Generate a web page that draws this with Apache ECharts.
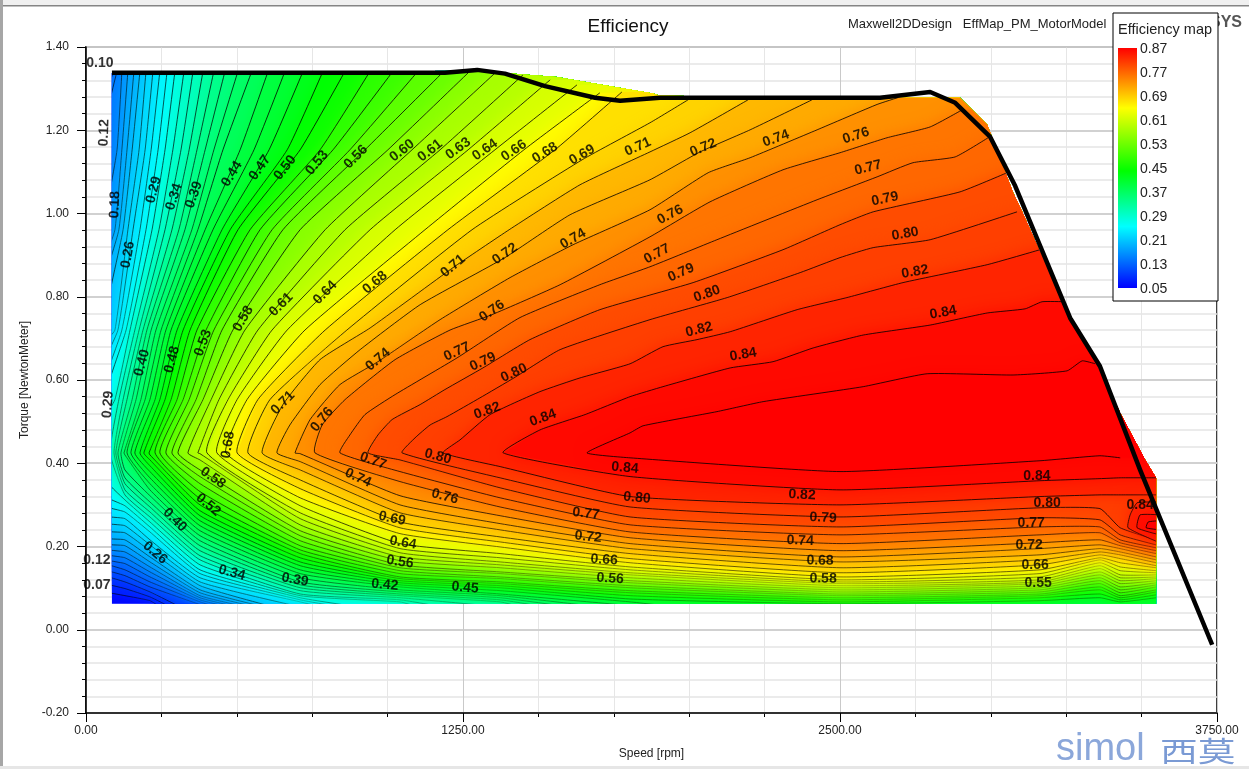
<!DOCTYPE html>
<html><head><meta charset="utf-8">
<style>html,body{margin:0;padding:0;background:#fff}#c{width:1249px;height:769px}</style>
<script src="https://cdn.jsdelivr.net/npm/echarts@6/dist/echarts.min.js"></script>
</head><body><div id="c"></div>
<script>
// Contour levels, index 0..49
const levels=[0.07,0.08,0.10,0.12,0.13,0.15,0.16,0.18,0.20,0.21,0.23,0.25,0.26,0.28,0.29,0.31,0.33,0.34,0.36,0.38,0.39,0.41,0.42,0.44,0.45,0.47,0.49,0.50,0.52,0.53,0.55,0.56,0.58,0.60,0.61,0.63,0.64,0.66,0.68,0.69,0.71,0.72,0.74,0.76,0.77,0.79,0.80,0.82,0.84,0.85];

// Upper branches: speed at fixed torque rows, levels 0.33 .. 0.60
const torqueRows=[1.342,1.153,0.961,0.72,0.553,0.425];
const upperRowFirstIndex=16;
const upperRowSpeeds=[
[325,288,242,162,109,80],[355,315,262,176,123,93],[388,342,285,189,136,99],[424,368,308,202,153,106],
[461,395,328,216,166,116],[504,424,351,232,182,126],[550,454,371,249,196,136],[604,511,395,265,212,149],
[660,557,421,282,229,162],[720,607,451,302,245,179],[786,667,478,322,262,192],[859,710,504,345,282,209],
[942,776,544,368,302,229],[1018,819,577,398,322,245],[1101,875,617,424,342,265],[1187,925,653,451,365,285],
[1273,1001,710,487,388,305],[1363,1081,793,527,415,338]];

// Upper branches of low levels: from the top edge down to the left edge
const upper015=[[93,1.342],[60,1.273]];
const upper016=[[103,1.342],[60,1.201]];
const upper018=[[119,1.342],[103,1.153],[60,.961]];
const upper020=[[139,1.342],[119,1.153],[96,.961],[60,.877]];
const upper021=[[159,1.342],[136,1.153],[109,.961],[60,.829]];
const upper023=[[179,1.342],[153,1.153],[123,.961],[60,.733]];
const upper025=[[199,1.342],[176,1.153],[139,.961],[96,.72],[60,.686]];
const upper026=[[222,1.342],[196,1.153],[156,.961],[106,.72],[60,.639]];
const upper028=[[245,1.342],[216,1.153],[179,.961],[119,.72],[60,.589]];
const upper029=[[269,1.342],[239,1.153],[199,.961],[133,.72],[60,.553]];
const upper031=[[295,1.342],[262,1.153],[219,.961],[146,.72],[96,.553],[60,.505]];

// Upper branches of high levels
const upper061=[[1449,1.333],[1174,1.153],[859,.961],[570,.72],[441,.553],[371,.425]];
const upper063=[[1539,1.321],[1267,1.153],[942,.961],[617,.72],[471,.553],[401,.425]];
const upper064=[[1628,1.309],[1356,1.153],[1025,.961],[667,.72],[501,.553],[434,.425]];
const upper066=[[1704,1.290],[1452,1.153],[1124,.961],[726,.72],[534,.553],[464,.425]];
const upper068=[[1777,1.292],[1555,1.153],[1200,.961],[793,.72],[570,.553],[501,.425]];
const upper069=[[1996,1.273],[1870,1.218],[1645,1.129],[1280,.961],[865,.72],[610,.553],[537,.425]];
const upper071=[[2195,1.273],[2003,1.194],[1870,1.148],[1638,1.069],[1403,.961],[1217,.870],[942,.725],[776,.649],[653,.541],[584,.425]];
const upper072=[[2407,1.273],[2202,1.201],[2036,1.148],[1870,1.081],[1605,.997],[1389,.894],[1108,.781],[909,.673],[776,.589],[676,.492],[633,.425]];
const upper074=[[2699,1.280],[2623,1.262],[2424,1.201],[2202,1.134],[2063,1.098],[1870,1.009],[1615,.925],[1406,.846],[1174,.745],[968,.644],[842,.589],[743,.505],[693,.425]];
const upper076=[[2905,1.249],[2799,1.208],[2656,1.182],[2500,1.146],[2311,1.105],[2069,1.028],[1870,.944],[1572,.829],[1346,.757],[1207,.720],[1025,.649],[859,.553],[783,.492],[759,.425]];
const upper077=[[2991,1.182],[2882,1.136],[2742,1.122],[2623,1.088],[2424,1.033],[2092,.937],[1870,.872],[1704,.829],[1439,.750],[1230,.653],[1025,.565],[925,.517],[875,.468],[842,.425]];
const upper079=[[3054,1.098],[2898,1.052],[2610,1.004],[2500,.973],[2311,.913],[2013,.834],[1704,.769],[1472,.697],[1316,.629],[1190,.577],[1108,.541],[1015,.505],[968,.468],[935,.425]];
const upper080=[[3087,1.004],[2799,.937],[2610,.918],[2500,.894],[2368,.858],[2126,.798],[1870,.745],[1572,.673],[1419,.605],[1306,.557],[1197,.512],[1141,.492],[1091,.461],[1048,.425]];
const upper082=[[3163,.913],[2988,.877],[2709,.834],[2523,.798],[2358,.769],[2136,.716],[2026,.697],[1913,.680],[1804,.639],[1638,.605],[1505,.572],[1340,.517],[1240,.456],[1184,.425]];
const upper084=[[3246,.788],[3170,.788],[3114,.771],[2988,.761],[2799,.732],[2577,.708],[2411,.677],[2278,.644],[2136,.629],[1913,.584],[1804,.560],[1655,.517],[1505,.480],[1383,.425]];
const upper085=[[3346,.639],[3303,.646],[3253,.622],[3074,.612],[2789,.615],[2577,.584],[2245,.548],[2092,.524],[1847,.490],[1804,.473],[1661,.425]];

// Lower branches: torque where each contour meets the left edge (levels 0.07 .. 0.31)
const leftEdgeTorque=[.091,.111,.130,.144,.159,.173,.185,.197,.209,.223,.240,.259,.276,.300,.324,.365];
// Lower branches: torque at fixed speeds; each list starts at the given level index
const lowerAt129=[.082,.099,.115,.130,.144,.159,.173,.187,.202,.216,.233,.250,.267,.283,.298,.312,.324,.336,.351,.365,.384,.420];
const lowerAt212=[.070,.079,.091,.103,.115,.127,.139,.151,.163,.175,.190,.204,.216,.235,.247,.259,.271,.283,.295,.307,.322,.336,.351,.365,.380,.394,.408,.420];
const lowerAt378=[.067,.072,.077,.082,.089,.096,.106,.115,.125,.135,.144,.156,.168,.178,.190,.202,.214,.226,.238,.250,.262,.274,.286,.300,.315,.332,.351,.368,.384,.408,.423];
const lowerAt710=[.067,.072,.077,.082,.086,.094,.101,.108,.115,.125,.135,.144,.154,.163,.173,.183,.192,.202,.214,.226,.238,.252,.267,.281,.298,.317,.339,.360,.384,.404,.423];
const lowerAt1041=[.067,.072,.077,.082,.086,.091,.096,.103,.108,.113,.118,.123,.127,.135,.142,.149,.156,.166,.175,.185,.195,.207,.231,.245,.259,.281,.300,.322,.356,.380,.408];
const lowerAt1373=[.067,.072,.077,.082,.086,.094,.101,.106,.111,.115,.123,.127,.135,.139,.149,.156,.163,.173,.183,.199,.211,.223,.240,.255,.274,.295,.317,.341,.365,.392];
const lowerAt1804=[.067,.074,.082,.089,.094,.101,.106,.113,.118,.125,.132,.137,.144,.151,.161,.171,.183,.195,.207,.221,.235,.252,.271,.295,.320,.368,.413];
const lowerAt2500=[.0625,.067,.072,.077,.082,.086,.091,.096,.101,.106,.111,.115,.120,.127,.137,.149,.163,.175,.190,.207,.228,.247,.271,.300,.336,.380];
const lowerAt3163=[.070,.077,.082,.086,.091,.096,.101,.106,.111,.115,.120,.127,.135,.144,.156,.168,.180,.195,.209,.228,.247,.269,.293,.320,.358,.406];
const lowerAt3362=[.077,.086,.096,.103,.111,.118,.125,.132,.139,.147,.154,.161,.168,.173,.180,.187,.195,.204,.216,.233,.247,.264,.291,.324,.363,.418];
const lowerAt3429=[.067,.072,.077,.082,.089,.096,.103,.111,.118,.125,.132,.142,.151,.161,.171,.180,.187,.195,.202,.209,.216,.228,.245,.324,.365,.413];
const lowerAt3548=[.077,.084,.091,.096,.103,.108,.113,.118,.123,.127,.132,.137,.142,.149,.154,.161,.168,.175,.183,.190,.197,.204,.216,.324,.365];
// Speed where low levels leave through the bottom of the map (levels 0.07 .. 0.44)
const bottomExitSpeed=[245,279,312,400,430,470,500,530,560,590,620,710,780,840,900,1100,1180,1373,1440,1520,1600,1700,1850,1950];
// Small high-efficiency pocket near the right edge
const pocketLevels=[0.83,0.845,0.86];
const pocket1=[[3560,.307],[3535,.307],[3485,.305],[3462,.276],[3455,.245],[3560,.209]];
const pocket2=[[3560,.276],[3495,.276],[3485,.245],[3560,.228]];
const pocket3=[[3560,.262],[3522,.259],[3515,.245],[3560,.240]];

// Outline of the mapped area and the torque-speed envelope
const mapOutline=[[86,1.338],[1290,1.343],[1562,1.328],[1671,1.314],[1880,1.288],[1903,1.283],[2633,1.278],[2898,1.278],[2988,1.213],[3004,1.184],[3074,1.050],[3104,1.004],[3263,.745],[3362,.625],[3429,.521],[3512,.408],[3548,.365],[3548,.0625],[86,.0625]];
const envelope=[[86,1.338],[1190,1.338],[1297,1.345],[1389,1.336],[1522,1.306],[1688,1.278],[1771,1.271],[1903,1.278],[2633,1.278],[2799,1.292],[2882,1.266],[2998,1.184],[3081,1.066],[3263,.749],[3362,.633],[3495,.384],[3734,-.036]];

// Contour labels: text, speed, torque, angle
const contourLabels=[
['0.10',46,1.362,0],['0.12',60,1.194,88],['0.18',96,1.021,88],['0.26',139,.901,80],['0.29',225,1.057,75],['0.34',292,1.040,72],['0.39',358,1.045,70],['0.44',484,1.095,58],['0.47',577,1.110,55],['0.50',660,1.110,52],['0.53',766,1.122,50],['0.56',895,1.136,45],['0.60',1048,1.151,38],['0.61',1141,1.151,38],['0.63',1234,1.156,36],['0.64',1323,1.153,35],['0.66',1419,1.151,34],['0.68',1522,1.146,32],['0.69',1645,1.141,30],['0.71',1830,1.160,24],['0.72',2046,1.158,22],['0.74',2288,1.180,20],['0.76',2553,1.187,18],
['0.77',2593,1.110,14],['0.79',2649,1.035,12],['0.80',2716,.951,10],['0.82',2749,.860,10],['0.84',2842,.762,10],['0.76',1937,.997,28],['0.77',1893,.903,28],['0.79',1973,.858,24],['0.80',2059,.807,20],['0.82',2033,.721,14],['0.84',2179,.661,10],['0.74',1615,.939,30],['0.72',1389,.903,35],['0.71',1217,.874,40],['0.68',958,.834,40],['0.64',793,.810,45],['0.61',647,.781,45],['0.58',521,.747,60],['0.53',388,.689,70],['0.48',285,.649,75],['0.40',186,.641,75],['0.29',73,.541,85],
['0.76',1346,.766,35],['0.74',968,.649,40],['0.77',1230,.668,25],['0.79',1316,.644,25],['0.80',1419,.617,25],['0.71',653,.545,45],['0.76',783,.505,50],['0.82',1330,.526,20],['0.84',1515,.509,20],['0.68',471,.444,80],
['0.77',952,.406,-20],['0.74',902,.365,-25],['0.80',1167,.416,-15],['0.76',1190,.320,-15],['0.84',1787,.389,-5],['0.80',1827,.317,-5],['0.82',2374,.324,-3],['0.79',2444,.269,-3],['0.74',2368,.214,-2],['0.68',2434,.166,-1],['0.58',2444,.123,-1],['0.69',1015,.267,-12],['0.64',1051,.209,-10],['0.56',1041,.163,-8],['0.42',991,.108,-5],['0.45',1257,.101,-5],['0.77',1658,.279,-6],['0.72',1665,.223,-6],['0.66',1718,.168,-4],['0.56',1738,.123,-4],['0.58',421,.365,-35],['0.52',405,.300,-40],['0.40',295,.264,-45],['0.26',229,.185,-40],['0.34',484,.137,-15],['0.39',693,.120,-10],['0.12',36,.168,0],['0.07',36,.106,0],['0.84',3153,.370,0],['0.80',3187,.305,0],['0.77',3134,.257,0],['0.72',3127,.204,0],['0.66',3147,.156,0],['0.55',3157,.113,0],['0.84',3495,.300,0]];

// Colour-bar tick labels and colour ramps
const legendTicks=['0.87','0.77','0.69','0.61','0.53','0.45','0.37','0.29','0.21','0.13','0.05'];
const legendStops=[0.05,0.26,0.45,0.665,0.87];
const rampStops=[0.05,0.30,0.50,0.665,0.855];
const rampColors=[[0,0,255],[0,255,255],[0,255,0],[255,255,0],[255,0,0]];

function ramp(v){
  if(v<=rampStops[0])return 'rgb('+rampColors[0]+')';
  for(let i=1;i<rampStops.length;i++){
    if(v<=rampStops[i]){
      const t=(v-rampStops[i-1])/(rampStops[i]-rampStops[i-1]);
      const a=rampColors[i-1],b=rampColors[i];
      return 'rgb('+[0,1,2].map(k=>Math.round(a[k]+(b[k]-a[k])*t)).join(',')+')';
    }
  }
  return 'rgb(255,0,0)';
}

const upperHigh={15:upper031,14:upper029,13:upper028,12:upper026,11:upper025,10:upper023,9:upper021,8:upper020,7:upper018,6:upper016,5:upper015,
34:upper061,35:upper063,36:upper064,37:upper066,38:upper068,39:upper069,40:upper071,41:upper072,42:upper074,43:upper076,44:upper077,45:upper079,46:upper080,47:upper082,48:upper084,49:upper085};
const lowerColumns=[[129,0,lowerAt129],[212,0,lowerAt212],[378,4,lowerAt378],[710,12,lowerAt710],[1041,15,lowerAt1041],[1373,18,lowerAt1373],[1804,23,lowerAt1804],[2500,24,lowerAt2500],[3163,24,lowerAt3163],[3362,24,lowerAt3362],[3429,24,lowerAt3429],[3548,24,lowerAt3548]];

function buildContour(i){
  let pts=[];
  if(upperHigh[i])pts=upperHigh[i].slice();
  else if(i>=upperRowFirstIndex&&i<upperRowFirstIndex+upperRowSpeeds.length)
    pts=upperRowSpeeds[i-upperRowFirstIndex].map((s,k)=>[s,torqueRows[k]]);
  if(i<leftEdgeTorque.length)pts.push([60,leftEdgeTorque[i]]);
  lowerColumns.forEach(c=>{
    const v=c[2][i-c[1]];
    if(v!==undefined)pts.push([c[0],v]);
  });
  if(i<bottomExitSpeed.length)pts.push([bottomExitSpeed[i],0.055]);
  return pts;
}
const contourList=levels.map((v,i)=>({value:v+0.008,pts:buildContour(i)}));
[pocket1,pocket2,pocket3].forEach((p,i)=>contourList.push({value:pocketLevels[i],pts:p}));

function renderContour(params,api){
  const idx=api.value(2);
  const toPx=p=>api.coord(p);
  const clip=()=>({type:'polygon',shape:{points:mapOutline.map(toPx)}});
  if(idx<0){
    return {type:'polygon',shape:{points:mapOutline.map(toPx)},style:{fill:ramp(0.055),stroke:null},silent:true};
  }
  const c=contourList[idx],pts=c.pts;
  const first=pts[0],last=pts[pts.length-1];
  const close=first[0]<=60
    ?[[3700,last[1]],[3700,1.45],[40,1.45],[40,first[1]]]
    :[[3700,last[1]],[3700,first[1]]];
  const col=ramp(c.value);
  return {type:'group',silent:true,children:[
    {type:'polygon',shape:{points:pts.concat(close).map(toPx)},style:{fill:col,stroke:null,shadowBlur:16,shadowColor:col},clipPath:clip(),silent:true},
    {type:'polyline',shape:{points:pts.map(toPx),smooth:0.15},style:{fill:null,stroke:'#000',lineWidth:0.8},clipPath:clip(),silent:true}
  ]};
}
const customData=[[0,0,-1]].concat(contourList.map((c,i)=>[0,0,i]));

const FONT='"Liberation Sans",Arial,sans-serif';
const axisColor='#000';
const gradStops=legendStops.map((s,i)=>({offset:(0.87-s)/(0.87-0.05),color:'rgb('+rampColors[i]+')'})).reverse();

const legendEls=[
 {type:'rect',shape:{x:1113,y:13,width:105,height:288},style:{fill:'#fff',stroke:'#000',lineWidth:1}},
 {type:'text',style:{x:1118,y:30,text:'Efficiency map',font:'14.5px '+FONT,fill:'#222',textVerticalAlign:'middle'}},
 {type:'rect',shape:{x:1118,y:48,width:19,height:240},style:{fill:new echarts.graphic.LinearGradient(0,0,0,1,gradStops),stroke:null}}
];
legendTicks.forEach((t,i)=>legendEls.push({type:'text',style:{x:1140,y:49+i*24,text:t,font:'14px '+FONT,fill:'#222',textVerticalAlign:'middle'}}));

const chart=echarts.init(document.getElementById('c'),null,{renderer:'canvas'});
chart.setOption({
 animation:false,
 backgroundColor:'#fff',
 grid:{left:86,right:32,top:47,bottom:56,show:true,borderColor:'#000',borderWidth:1.5,backgroundColor:'#fff'},
 xAxis:[
  {type:'value',min:0,max:3750,interval:1250,position:'bottom',z:2,
   axisLine:{onZero:false,lineStyle:{color:axisColor,width:1.5}},axisTick:{length:9,lineStyle:{color:axisColor}},
   axisLabel:{formatter:v=>v.toFixed(2),color:'#222',fontFamily:FONT,fontSize:12,margin:12,showMinLabel:true,showMaxLabel:true},
   splitLine:{show:true,lineStyle:{color:'#c9c9c9',width:1}},
   name:'Speed [rpm]',nameLocation:'middle',nameGap:35,nameTextStyle:{color:'#222',fontFamily:FONT,fontSize:12}},
  {type:'value',min:0,max:3750,interval:250,position:'bottom',z:1,
   axisLine:{show:false,onZero:false},axisTick:{length:4,lineStyle:{color:axisColor}},axisLabel:{show:false},
   splitLine:{show:true,lineStyle:{color:'#e6e6e6',width:1}}}
 ],
 yAxis:[
  {type:'value',min:-0.2,max:1.4,interval:0.2,position:'left',z:2,
   axisLine:{onZero:false,lineStyle:{color:axisColor,width:1.5}},axisTick:{length:9,lineStyle:{color:axisColor}},
   axisLabel:{formatter:v=>v.toFixed(2),color:'#222',fontFamily:FONT,fontSize:12,margin:17},
   splitLine:{show:true,lineStyle:{color:'#c9c9c9',width:1.5}},
   name:'Torque [NewtonMeter]',nameLocation:'middle',nameGap:49,nameTextStyle:{color:'#222',fontFamily:FONT,fontSize:12}},
  {type:'value',min:-0.2,max:1.4,interval:0.04,position:'left',z:1,
   axisLine:{show:false,onZero:false},axisTick:{length:4,lineStyle:{color:axisColor}},axisLabel:{show:false},
   splitLine:{show:true,lineStyle:{color:'#e4e4e4',width:1.5}}}
 ],
 series:[
  {type:'custom',name:'Efficiency',coordinateSystem:'cartesian2d',xAxisIndex:0,yAxisIndex:0,z:3,clip:false,silent:true,
   renderItem:renderContour,data:customData,encode:{x:0,y:1}},
  {type:'line',name:'Envelope',xAxisIndex:0,yAxisIndex:0,z:5,data:envelope,symbol:'none',clip:false,silent:true,
   lineStyle:{color:'#000',width:4.5,join:'round'}},
  {type:'scatter',name:'Contour labels',xAxisIndex:0,yAxisIndex:0,z:6,clip:false,silent:true,symbolSize:1,
   itemStyle:{color:'rgba(0,0,0,0)'},
   data:contourLabels.map(l=>({value:[l[1],l[2]],label:{show:true,formatter:l[0],rotate:l[3],position:'inside',
     align:'center',verticalAlign:'middle',color:'#000',fontFamily:FONT,fontWeight:'bold',fontSize:14}}))}
 ],
 graphic:{elements:[
  {type:'rect',z:90,silent:true,shape:{x:0,y:0,width:1249,height:5},style:{fill:'#f0f0f0'}},
  {type:'rect',z:90,silent:true,shape:{x:0,y:5,width:1249,height:1.5},style:{fill:'#858585'}},
  {type:'rect',z:90,silent:true,shape:{x:0,y:0,width:3,height:769},style:{fill:'#a6a6a6'}},
  {type:'rect',z:90,silent:true,shape:{x:0,y:766,width:1249,height:3},style:{fill:'#e6e6e6'}},
  {type:'text',z:90,silent:true,style:{x:628,y:27,text:'Efficiency',font:'19px '+FONT,fill:'#111',textAlign:'center',textVerticalAlign:'middle'}},
  {type:'text',z:90,silent:true,style:{x:848,y:24,text:'Maxwell2DDesign   EffMap_PM_MotorModel',font:'13px '+FONT,fill:'#222',textVerticalAlign:'middle'}},
  {type:'text',z:90,silent:true,style:{x:1242,y:23,text:'ANSYS',font:'bold 16px '+FONT,fill:'#555',textAlign:'right',textVerticalAlign:'middle'}},
  {type:'text',z:90,silent:true,style:{x:1056,y:750,text:'simol',font:'38px '+FONT,fill:'#8ba7da',textVerticalAlign:'middle'}},
  {type:'text',z:90,silent:true,x:1160,y:751,scaleX:1.35,style:{x:0,y:0,text:'西莫',font:'28px "Noto Sans CJK SC"',fill:'#7a9ad4',textVerticalAlign:'middle'}},
  {type:'group',z:95,silent:true,children:legendEls.map(e=>Object.assign({z:95,silent:true},e))}
 ]}
});
</script></body></html>
